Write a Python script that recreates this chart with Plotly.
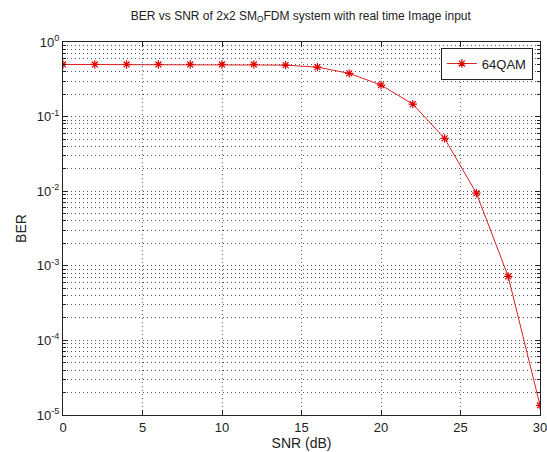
import plotly.graph_objects as go

snr = [0, 2, 4, 6, 8, 10, 12, 14, 16, 18, 20, 22, 24, 26, 28, 30]
ber = [0.5, 0.5, 0.5, 0.5, 0.5, 0.5, 0.5, 0.49, 0.46, 0.38, 0.265, 0.147, 0.051, 0.0094, 7.2e-4, 1.35e-5]
ytick_vals = [1e-5, 1e-4, 1e-3, 1e-2, 1e-1, 1]
ytick_text = ["10<sup>-5</sup>", "10<sup>-4</sup>", "10<sup>-3</sup>", "10<sup>-2</sup>", "10<sup>-1</sup>", "10<sup>0</sup>"]
xtick_vals = [0, 5, 10, 15, 20, 25, 30]

font = "Liberation Sans, Arial, sans-serif"
gdash = "1px,3px"
gcol = "#555"

fig = go.Figure()
fig.add_trace(go.Scatter(
    x=snr, y=ber, mode="lines+markers", name="64QAM",
    line=dict(color="#d62020", width=1),
    marker=dict(symbol="asterisk-open", size=7, color="#e00000", line=dict(color="#e00000", width=1.2)),
))

fig.update_layout(
    width=547, height=452,
    margin=dict(l=63, r=7, t=42, b=37),
    paper_bgcolor="white", plot_bgcolor="white",
    font=dict(family=font, size=12, color="#222"),
    title=dict(text="BER vs SNR of 2x2 SM<sub>O</sub>FDM system with real time Image input",
               x=0.55, xanchor="center", y=0.975, yanchor="top", font=dict(size=12)),
    showlegend=True,
    legend=dict(x=0.985, y=0.985, xanchor="right", yanchor="top",
                bordercolor="#222", borderwidth=1, bgcolor="white",
                font=dict(size=13)),
)

fig.update_xaxes(
    range=[0, 30], tickvals=xtick_vals, ticks="inside", ticklen=5, automargin=False,
    ticklabeloverflow="allow",
    tickcolor="#222", showline=True, linecolor="#222", linewidth=1, mirror="ticks",
    showgrid=True, gridcolor=gcol, griddash=gdash, gridwidth=1,
    zeroline=False, title=dict(text="SNR (dB)", standoff=2),
    tickfont=dict(size=13),
)
fig.update_yaxes(
    type="log", range=[-5, 0], tickvals=ytick_vals, ticktext=ytick_text, automargin=False,
    ticklabeloverflow="allow",
    ticks="inside", ticklen=5, tickcolor="#222",
    showline=True, linecolor="#222", linewidth=1, mirror="ticks",
    showgrid=True, gridcolor=gcol, griddash=gdash, gridwidth=1,
    minor=dict(dtick="D1", showgrid=True, gridcolor=gcol, griddash=gdash, gridwidth=1,
               ticks="inside", ticklen=3, tickcolor="#222"),
    zeroline=False, title=dict(text="BER", standoff=6),
    tickfont=dict(size=13),
)

fig.write_html("out.html")
